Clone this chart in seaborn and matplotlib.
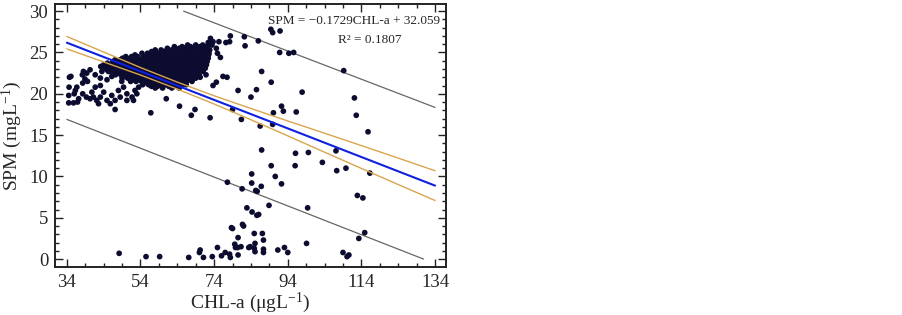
import matplotlib
matplotlib.use("Agg")
import matplotlib.pyplot as plt
import matplotlib.ticker as ticker
import numpy as np
import pandas as pd
import seaborn as sns

# sparse points (CHL-a, SPM)
sparse_x = [48.2, 55.5, 59.2, 67.1, 70.0, 70.2, 71.1, 73.5, 74.9, 76.0, 77.0, 78.4, 78.2, 79.6, 79.8,
            80.5, 80.4, 80.5, 81.3, 83.4, 83.8, 84.9, 85.1, 87.4, 87.4, 91.3, 93.1, 94.0, 99.1, 109.0,
            110.1, 110.6, 113.3, 114.9, 78.7, 79.0, 81.7, 82.0, 84.9, 87.1, 87.4, 85.1, 82.9, 84.3,
            85.6, 86.1, 88.9, 99.4, 77.6, 81.6, 84.2, 85.3, 85.7, 86.8, 84.2, 90.6, 92.3, 89.5, 96.0,
            107.3, 109.8, 103.4, 116.3, 86.9, 96.1, 99.6, 107.1, 112.9, 114.4, 86.5, 89.9, 90.1, 92.8,
            96.3, 92.3, 112.6, 115.8, 112.1, 97.9, 85.5, 84.0, 81.4, 79.0, 80.5, 72.9, 67.8, 68.8,
            64.6, 61.0, 56.8, 47.1, 86.9, 89.5, 109.2, 91.8, 94.3, 95.6, 89.4, 89.9, 91.9, 82.2,
            82.4, 86.0, 78.4, 78.2, 77.2, 75.3, 73.7, 74.6, 76.4, 77.5, 74.6, 73.7, 74.9, 75.7,
            73.0, 72.4, 71.8, 70.2, 69.0]
sparse_y = [0.7, 0.3, 0.3, 0.2, 0.8, 1.1, 0.2, 0.3, 1.4, 0.4, 0.8, 0.2, 0.6, 1.8, 1.4,
            2.6, 1.4, 0.5, 1.5, 1.4, 1.5, 1.3, 0.9, 0.8, 1.2, 1.1, 1.4, 0.8, 1.9, 0.8,
            0.3, 0.5, 2.5, 3.2, 3.8, 3.7, 4.2, 4.0, 3.1, 3.1, 2.3, 1.9, 6.2, 5.7,
            5.3, 5.4, 6.5, 6.2, 9.3, 8.5, 9.2, 8.3, 8.2, 8.8, 10.3, 10.0, 9.1, 11.3, 11.3,
            10.7, 11.0, 11.7, 10.4, 13.2, 12.8, 12.9, 13.1, 7.7, 7.4, 16.1, 16.3, 17.7, 17.9,
            17.8, 18.5, 17.4, 15.4, 19.5, 20.2, 20.5, 19.6, 16.9, 18.1, 20.4, 17.1, 17.4, 18.1,
            18.5, 19.4, 17.7, 18.1, 22.7, 21.4, 22.8, 25.0, 24.9, 25.0, 27.8, 27.4, 27.6, 26.9,
            25.8, 26.4, 27.0, 26.3, 26.2, 26.3, 26.3, 25.5, 22.1, 22.0, 21.4, 21.0, 24.9, 24.4,
            26.7, 26.2, 22.3, 22.0, 21.9]

# left part of the cluster
left_x = [34.7, 35.1, 34.6, 34.5, 34.5, 35.8, 36.0, 36.3, 36.7, 37.2, 36.9, 38.2, 38.5, 38.9, 38.3,
          39.6, 39.4, 40.3, 38.3, 39.3, 40.3, 41.2, 40.8, 42.6, 42.1, 43.1, 41.7, 43.1, 43.1, 41.7,
          43.5, 44.9, 44.9, 46.2, 44.0, 44.9, 45.8, 47.1, 46.2, 48.5, 48.0, 49.4, 48.9, 50.3, 51.7,
          52.1, 50.3, 52.5, 53.5, 53.0, 46.6, 47.6, 48.5, 47.1, 45.8, 49.9, 51.2, 52.6, 53.9, 53.5,
          55.3, 56.2, 57.6, 58.9, 59.8, 61.6, 62.5, 64.4, 65.7, 67.0, 68.4, 69.7, 70.6, 71.7]
left_y = [22.0, 22.1, 20.8, 19.8, 18.9, 18.9, 20.0, 20.4, 20.8, 19.4, 19.0, 22.3, 22.7, 21.8, 21.3,
          21.5, 22.5, 22.9, 20.0, 19.6, 19.4, 19.6, 20.2, 18.8, 19.2, 19.6, 20.8, 21.0, 21.9, 22.3,
          22.7, 22.9, 21.7, 22.1, 20.2, 19.2, 18.8, 19.2, 19.8, 19.6, 20.4, 20.8, 21.5, 20.0, 19.6,
          19.2, 19.2, 20.4, 20.8, 20.0, 23.5, 23.9, 24.1, 22.9, 22.7, 23.3, 24.3, 24.5, 23.9, 23.1,
          24.1, 24.7, 24.9, 24.7, 25.1, 24.9, 25.3, 25.3, 25.5, 25.3, 25.5, 25.5, 25.7, 25.5]

# dense core of the cluster, row by row (SPM level -> CHL-a values)
core_rows = {
    25.9: [66.8, 69.0, 70.9, 72.6, 73.4],
    25.7: [63.2, 65.3, 67.6, 70.1, 71.5],
    25.5: [61.3, 64.5, 66.0, 67.8, 69.3, 70.5, 71.8],
    25.3: [58.0, 59.6, 61.2, 62.8, 64.4, 65.9, 67.4, 68.9, 70.2, 71.6, 72.8],
    25.1: [57.0, 60.5, 62.0, 63.5, 65.2, 66.6, 68.1, 69.6, 70.9, 72.2],
    24.9: [54.4, 55.9, 57.4, 59.0, 60.6, 62.1, 63.7, 65.2, 66.7, 68.2, 69.7, 71.1, 72.6],
    24.7: [52.5, 56.3, 57.8, 59.2, 60.8, 62.3, 63.8, 65.4, 66.9, 68.3, 69.9, 71.2, 72.5],
    24.5: [50.0, 51.6, 53.2, 54.8, 56.4, 57.9, 59.5, 61.1, 62.7, 64.2, 65.8, 67.4, 68.9, 70.4, 71.8],
    24.3: [49.1, 51.4, 53.0, 54.6, 56.1, 57.5, 59.0, 60.6, 62.0, 63.6, 65.1, 66.6, 68.2, 69.7, 71.0,
           72.4],
    24.1: [47.1, 48.7, 50.3, 51.8, 53.4, 55.0, 56.5, 58.0, 59.6, 61.1, 62.6, 64.2, 65.7, 67.2, 68.8,
           70.2, 71.7],
    23.9: [46.5, 48.0, 49.5, 51.0, 52.6, 54.1, 55.7, 57.2, 58.6, 60.2, 61.7, 63.2, 64.8, 66.3, 67.8,
           69.3, 70.8, 72.1],
    23.7: [45.0, 46.9, 48.5, 50.0, 51.6, 53.1, 54.6, 56.2, 57.7, 59.2, 60.7, 62.2, 63.8, 65.3, 66.8,
           68.3, 69.8, 71.2],
    23.5: [44.0, 46.2, 47.8, 49.3, 50.8, 52.3, 53.9, 55.4, 56.9, 58.4, 59.9, 61.4, 63.0, 64.5, 66.0,
           67.5, 69.0, 70.5, 71.9],
    23.3: [43.2, 45.3, 46.8, 48.3, 49.9, 51.4, 52.9, 54.4, 56.0, 57.5, 59.0, 60.5, 62.0, 63.5, 65.1,
           66.6, 68.1, 69.6, 71.0],
    23.1: [44.5, 46.0, 47.6, 49.1, 50.6, 52.1, 53.7, 55.2, 56.7, 58.2, 59.7, 61.2, 62.8, 64.3, 65.8,
           67.3, 68.8, 70.3, 71.6],
    22.9: [46.7, 48.2, 49.7, 51.2, 52.7, 54.2, 55.7, 57.3, 58.8, 60.3, 61.8, 63.3, 64.8, 66.3, 67.9,
           69.4, 70.8],
    22.7: [45.3, 46.8, 48.4, 49.9, 51.4, 52.9, 54.5, 56.0, 57.5, 59.0, 60.5, 62.0, 63.5, 65.0, 66.6,
           68.1, 69.6, 71.0],
    22.5: [48.0, 49.5, 51.0, 52.5, 54.0, 55.5, 57.0, 58.5, 60.1, 61.6, 63.1, 64.6, 66.1, 67.6, 69.1],
    22.3: [47.2, 48.7, 50.2, 51.7, 53.2, 54.8, 56.3, 57.8, 59.3, 60.8, 62.3, 63.9, 65.4, 66.9, 68.4,
           69.9],
    22.1: [49.8, 51.3, 52.8, 54.3, 55.8, 57.3, 58.8, 60.3, 61.8, 63.3, 64.9, 66.4, 67.9],
    21.9: [49.0, 50.5, 52.0, 53.5, 55.0, 56.6, 58.1, 59.6, 61.1, 62.6, 64.1, 65.7, 67.2, 68.7],
    21.7: [52.0, 53.6, 55.1, 56.6, 58.1, 59.6, 61.2, 62.7, 64.2, 65.7, 67.2],
    21.5: [51.3, 52.8, 54.3, 55.8, 57.4, 58.9, 60.4, 61.9, 63.4, 64.9, 66.5, 68.0],
    21.3: [54.9, 56.4, 57.9, 59.4, 60.9, 62.5, 64.0, 65.5],
    21.1: [54.6, 56.2, 57.7, 59.2, 60.7, 62.2, 63.7, 65.2, 66.4],
    20.9: [57.0, 58.6, 60.1, 61.7, 63.2, 64.8],
    20.7: [58.0, 60.0, 62.5, 64.5],
}

# fitted line, 95% confidence band and prediction band
fit_x = [34, 44, 54, 64, 74, 84, 94, 104, 114, 124, 134]
fit_y = [26.18, 24.45, 22.72, 20.99, 19.26, 17.54, 15.81, 14.08, 12.35, 10.62, 8.89]
ci_upper = [26.93, 25.05, 23.17, 21.41, 19.76, 18.22, 16.71, 15.23, 13.73, 12.22, 10.69]
ci_lower = [25.43, 23.85, 22.27, 20.57, 18.76, 16.86, 14.91, 12.93, 10.97, 9.02, 7.09]
pi_upper_x = [65.7, 134]
pi_upper_y = [30.0, 18.35]
pi_lower_x = [34, 130.9]
pi_lower_y = [16.9, 0.0]

equation = "SPM = \u22120.1729CHL-a + 32.059"
r2_text = "R\u00b2 = 0.1807"


def main():
    core_x, core_y = [], []
    for level, xs in core_rows.items():
        core_x += xs
        core_y += [level] * len(xs)
    df = pd.DataFrame({"chl": sparse_x + left_x + core_x,
                       "spm": sparse_y + left_y + core_y})

    sns.set_theme(style="ticks")
    plt.rcParams["font.family"] = ["Liberation Serif", "DejaVu Serif"]
    plt.rcParams["mathtext.default"] = "regular"

    fig = plt.figure(figsize=(9.03, 3.15), dpi=100)
    ax = fig.add_axes([0.061, 0.152, 0.433, 0.835])

    sns.scatterplot(data=df, x="chl", y="spm", ax=ax, color="#0c0c30", s=17,
                    edgecolor="none", zorder=3)
    sns.lineplot(x=pi_upper_x, y=pi_upper_y, ax=ax, color="#666666", lw=0.9, zorder=2)
    sns.lineplot(x=pi_lower_x, y=pi_lower_y, ax=ax, color="#666666", lw=0.9, zorder=2)
    sns.lineplot(x=fit_x, y=ci_upper, ax=ax, color="#d9a54e", lw=1.0, zorder=4)
    sns.lineplot(x=fit_x, y=ci_lower, ax=ax, color="#d9a54e", lw=1.0, zorder=4)
    sns.lineplot(x=fit_x, y=fit_y, ax=ax, color="#1020e0", lw=1.5, zorder=5)

    ax.set_xlim(30.8, 137)
    ax.set_ylim(-0.97, 30.85)
    ax.set_xticks([34, 54, 74, 94, 114, 134])
    ax.set_yticks([0, 5, 10, 15, 20, 25, 30])
    ax.xaxis.set_minor_locator(ticker.AutoMinorLocator(4))
    ax.yaxis.set_minor_locator(ticker.AutoMinorLocator(5))
    ax.tick_params(which="both", direction="in", top=True, right=True,
                   labelsize=13.5, width=1.0, color="#222222")
    ax.tick_params(which="major", length=6, pad=5)
    ax.tick_params(which="minor", length=3)
    for sp in ax.spines.values():
        sp.set_linewidth(1.4)
        sp.set_color("#222222")

    ax.set_xlabel("CHL-a (\u03bcgL$^{-1}$)", fontsize=14, labelpad=0)
    ax.set_ylabel("SPM (mgL$^{-1}$)", fontsize=14, labelpad=4)

    ax.text(0.985, 0.935, equation, transform=ax.transAxes, ha="right", va="center",
            fontsize=9.5)
    ax.text(0.805, 0.865, r2_text, transform=ax.transAxes, ha="center", va="center",
            fontsize=9.5)

    fig.savefig("out.png", dpi=100)


if __name__ == "__main__":
    main()
